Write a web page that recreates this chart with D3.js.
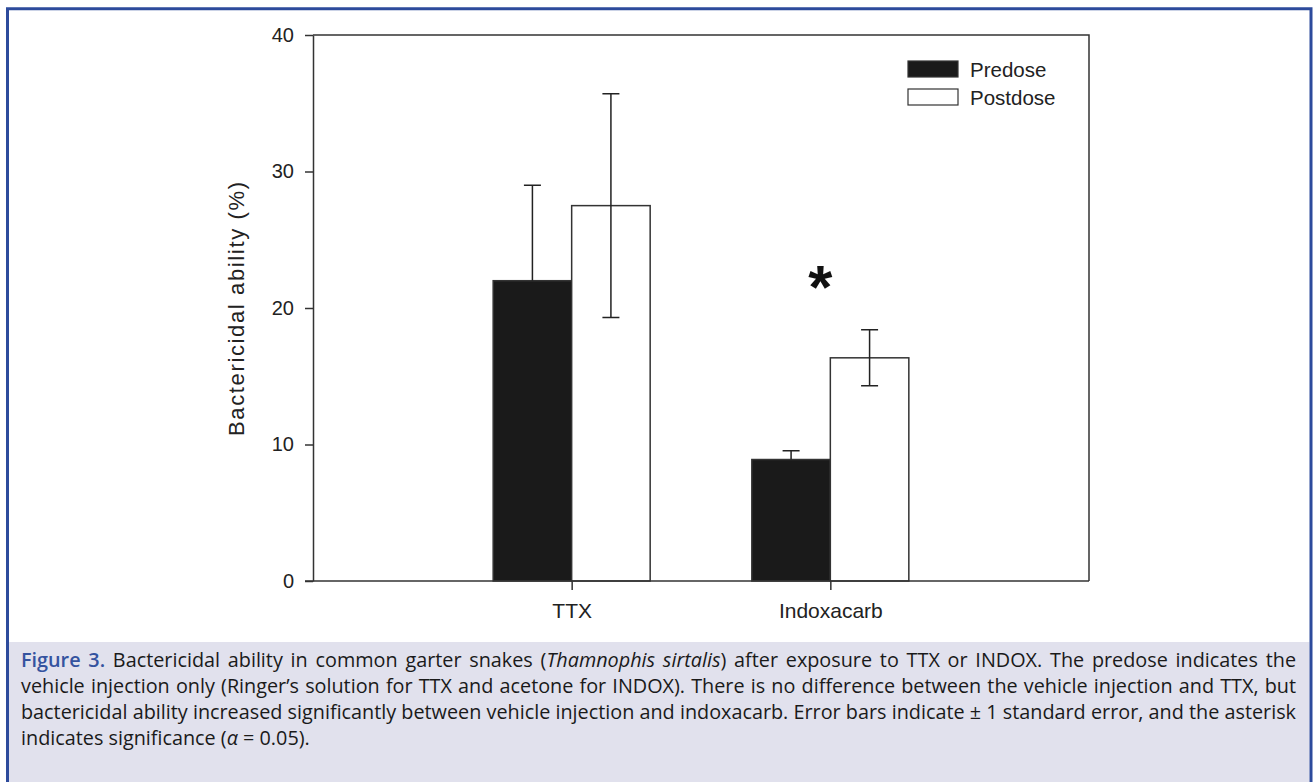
<!DOCTYPE html>
<html>
<head>
<meta charset="utf-8">
<script src="https://cdn.jsdelivr.net/npm/d3@7"></script>
<style>
  html, body { margin: 0; padding: 0; background: #fff; }
  svg { display: block; }
</style>
</head>
<body>
<svg id="chart"></svg>
<script>
// data
var groups = ["TTX", "Indoxacarb"];
var doses = ["Predose", "Postdose"];
var predose = [22.0, 8.9];
var postdose = [27.5, 16.35];
var predoseSE = [7.0, 0.65];
var postdoseSE = [8.2, 2.05];
var yTicks = [0, 10, 20, 30, 40];
var sigGroups = ["Indoxacarb"];

var W = 1314, H = 782;
var svg = d3.select("#chart").attr("width", W).attr("height", H);

var plot = { left: 313, right: 1089, top: 35, bottom: 581 };

var x = d3.scalePoint()
  .domain(groups)
  .range([plot.left, plot.right])
  .padding(1);
var xSub = d3.scaleBand()
  .domain(doses)
  .range([-78.5, 78.5]);
var y = d3.scaleLinear()
  .domain([0, 40])
  .range([plot.bottom, plot.top]);

var fills = { Predose: "#1a1a1a", Postdose: "#ffffff" };
var axisColor = "#333";
var chartFont = "'Liberation Sans', Arial, sans-serif";

// rows for drawing
var rows = [];
groups.forEach(function (g, i) {
  rows.push({ group: g, dose: "Predose", value: predose[i], se: predoseSE[i] });
  rows.push({ group: g, dose: "Postdose", value: postdose[i], se: postdoseSE[i] });
});

// caption background + blue frame
svg.append("rect")
  .attr("x", 9).attr("y", 642)
  .attr("width", 1300.5).attr("height", H - 642)
  .attr("fill", "#e1e1ed");
svg.append("path")
  .attr("d", "M7.5," + H + "V8.7H1311V" + H)
  .attr("fill", "none")
  .attr("stroke", "#2d4b9c")
  .attr("stroke-width", 3);

// bars
svg.append("g")
  .selectAll("rect")
  .data(rows)
  .enter()
  .append("rect")
  .attr("x", function (d) { return x(d.group) + xSub(d.dose); })
  .attr("y", function (d) { return y(d.value); })
  .attr("width", xSub.bandwidth())
  .attr("height", function (d) { return y(0) - y(d.value); })
  .attr("fill", function (d) { return fills[d.dose]; })
  .attr("stroke", axisColor)
  .attr("stroke-width", 1.5);

// error bars (predose lower half is hidden inside the dark bar)
var cap = 8.5;
svg.append("g")
  .attr("stroke", "#222")
  .attr("stroke-width", 1.5)
  .attr("fill", "none")
  .selectAll("path")
  .data(rows)
  .enter()
  .append("path")
  .attr("d", function (d) {
    var cx = x(d.group) + xSub(d.dose) + xSub.bandwidth() / 2;
    var hi = y(d.value + d.se), lo = y(d.value - d.se);
    var p = "M" + (cx - cap) + "," + hi + "H" + (cx + cap) + "M" + cx + "," + hi;
    if (d.dose == "Predose") return p + "V" + y(d.value);
    return p + "V" + lo + "M" + (cx - cap) + "," + lo + "H" + (cx + cap);
  });

// frame: top and right
svg.append("path")
  .attr("d", "M" + plot.left + "," + plot.top + "H" + plot.right + "V" + plot.bottom)
  .attr("fill", "none")
  .attr("stroke", axisColor)
  .attr("stroke-width", 1.5);

// y axis
var yAxis = svg.append("g")
  .attr("transform", "translate(" + plot.left + ",0)")
  .call(d3.axisLeft(y).tickValues(yTicks).tickSize(8).tickPadding(11).tickSizeOuter(0));
yAxis.select(".domain").attr("stroke", axisColor).attr("stroke-width", 1.5);
yAxis.selectAll(".tick line").attr("stroke", axisColor).attr("stroke-width", 1.5);
yAxis.selectAll(".tick text")
  .attr("font-family", chartFont)
  .attr("font-size", 20)
  .attr("fill", "#222");

// x axis
var xAxis = svg.append("g")
  .attr("transform", "translate(0," + plot.bottom + ")")
  .call(d3.axisBottom(x).tickSize(9).tickPadding(13).tickSizeOuter(0));
xAxis.select(".domain")
  .attr("d", "M" + (plot.left - 8) + ",0H" + plot.right)
  .attr("stroke", axisColor).attr("stroke-width", 1.5);
xAxis.selectAll(".tick line").attr("stroke", axisColor).attr("stroke-width", 1.5);
xAxis.selectAll(".tick text")
  .attr("font-family", chartFont)
  .attr("font-size", 21)
  .attr("fill", "#222");

// y axis title
svg.append("text")
  .attr("transform", "translate(244," + ((plot.top + plot.bottom) / 2 + 1) + ") rotate(-90)")
  .attr("text-anchor", "middle")
  .attr("font-family", chartFont)
  .attr("font-size", 22)
  .attr("textLength", 254)
  .attr("lengthAdjust", "spacing")
  .attr("fill", "#222")
  .text("Bactericidal ability (%)");

// significance asterisk
svg.selectAll("text.sig")
  .data(sigGroups)
  .enter()
  .append("text")
  .attr("class", "sig")
  .attr("x", function (g) { return x(g) - 10; })
  .attr("y", function (g) {
    var i = groups.indexOf(g);
    return y(postdose[i] + postdoseSE[i]) - 22;
  })
  .attr("text-anchor", "middle")
  .attr("font-family", chartFont)
  .attr("font-weight", "bold")
  .attr("font-size", 62)
  .attr("fill", "#111")
  .text("*");

// legend
var li = svg.append("g")
  .attr("transform", "translate(908,61)")
  .selectAll("g")
  .data(doses)
  .enter()
  .append("g")
  .attr("transform", function (d, i) { return "translate(0," + i * 28 + ")"; });
li.append("rect")
  .attr("width", 50).attr("height", 16)
  .attr("fill", function (d) { return fills[d]; })
  .attr("stroke", axisColor)
  .attr("stroke-width", 1.2);
li.append("text")
  .attr("x", 62).attr("y", 16)
  .attr("font-family", chartFont)
  .attr("font-size", 20.5)
  .attr("fill", "#222")
  .text(function (d) { return d; });

// caption, each line justified to the box
var capLines = [
  [["Figure 3.", "fig"], [" Bactericidal ability in common garter snakes (", ""], ["Thamnophis sirtalis", "it"],
   [") after exposure to TTX or INDOX. The predose indicates the", ""]],
  [["vehicle injection only (Ringer\u2019s solution for TTX and acetone for INDOX). There is no difference between the vehicle injection and TTX, but", ""]],
  [["bactericidal ability increased significantly between vehicle injection and indoxacarb. Error bars indicate \u00b1 1 standard error, and the asterisk", ""]],
  [["indicates significance (", ""], ["\u03b1", "it"], [" = 0.05).", ""]]
];
var capLeft = 21, capRight = 1296, capBase = [667, 693, 719, 745];
var target = capRight - capLeft;

var capTexts = capLines.map(function (parts, i) {
  var t = svg.append("text")
    .attr("x", capLeft).attr("y", capBase[i])
    .attr("font-family", "'Open Sans', 'Noto Sans', sans-serif")
    .attr("font-size", 16)
    .attr("fill", "#1a1a1a");
  parts.forEach(function (p) {
    t.append("tspan")
      .attr("fill", p[1] == "fig" ? "#34539f" : null)
      .attr("font-weight", p[1] == "fig" ? 600 : null)
      .attr("font-style", p[1] == "it" ? "italic" : null)
      .text(p[0]);
  });
  return t;
});

// pick one font size so the widest justified line fits, then spread words
var widest = d3.max(capTexts.slice(0, 3), function (t) { return t.node().getComputedTextLength(); });
var capSize = 16 * target / widest;
capTexts.forEach(function (t, i) {
  t.attr("font-size", capSize);
  if (i < capTexts.length - 1) {
    var len = t.node().getComputedTextLength();
    var spaces = t.text().split(" ").length - 1;
    t.attr("word-spacing", (target - len) / spaces);
  }
});
</script>
</body>
</html>
